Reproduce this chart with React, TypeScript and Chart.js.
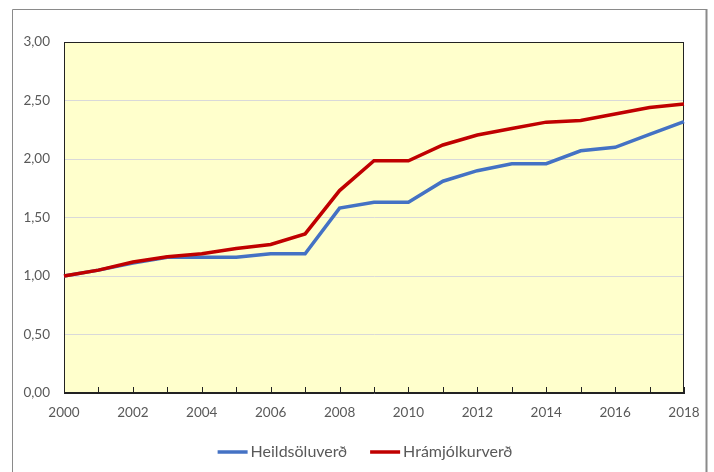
import React, { useEffect, useRef } from "react";
import { Chart, registerables } from "chart.js";

Chart.register(...registerables);

const years: string[] = [
  "2000", "2001", "2002", "2003", "2004", "2005", "2006", "2007", "2008", "2009",
  "2010", "2011", "2012", "2013", "2014", "2015", "2016", "2017", "2018",
];
const heildsoluverd: number[] = [
  1.0, 1.05, 1.11, 1.16, 1.16, 1.16, 1.19, 1.19, 1.58, 1.63,
  1.63, 1.81, 1.90, 1.96, 1.96, 2.07, 2.10, 2.21, 2.32,
];
const hramjolkurverd: number[] = [
  1.0, 1.05, 1.12, 1.165, 1.19, 1.235, 1.27, 1.36, 1.73, 1.985,
  1.985, 2.12, 2.205, 2.26, 2.315, 2.33, 2.385, 2.44, 2.47,
];
const seriesNames: string[] = ["Heildsöluverð", "Hrámjólkurverð"];

const FONT = "Lato, 'Open Sans', sans-serif";

const decorPlugin = {
  id: "decor",
  beforeDraw(chart: any) {
    const { ctx, chartArea: a } = chart;
    ctx.save();
    ctx.fillStyle = "#FFFFCC";
    ctx.fillRect(a.left, a.top, a.right - a.left, a.bottom - a.top);
    // outer chart border
    ctx.strokeStyle = "#8a8a8a";
    ctx.lineWidth = 1;
    ctx.beginPath();
    ctx.moveTo(12.5, 480);
    ctx.lineTo(12.5, 9.5);
    ctx.lineTo(706, 9.5);
    ctx.stroke();
    ctx.lineWidth = 2;
    ctx.beginPath();
    ctx.moveTo(706.5, 9);
    ctx.lineTo(706.5, 480);
    ctx.stroke();
    ctx.restore();
  },
  beforeDatasetsDraw(chart: any) {
    const { ctx, chartArea: a, scales } = chart;
    ctx.save();
    ctx.strokeStyle = "#222222";
    ctx.lineWidth = 1;
    ctx.strokeRect(Math.round(a.left) + 0.5, Math.round(a.top) + 0.5, Math.round(a.right - a.left) - 1, Math.round(a.bottom - a.top) - 1);
    // inward tick marks on x axis
    const x = scales.x;
    ctx.beginPath();
    for (let i = 0; i < years.length; i++) {
      const px = Math.round(x.getPixelForValue(i)) + 0.5;
      ctx.moveTo(px, a.bottom);
      ctx.lineTo(px, a.bottom - 6);
    }
    ctx.stroke();
    ctx.restore();
  },
  afterDraw(chart: any) {
    // legend
    const { ctx } = chart;
    const ds = chart.data.datasets;
    ctx.save();
    ctx.font = `16px ${FONT}`;
    ctx.textBaseline = "middle";
    ctx.textAlign = "left";
    const lineW = 30;
    const gap = 3;
    const itemGap = 23;
    const widths = ds.map((d: any) => lineW + gap + ctx.measureText(d.label).width);
    const total = widths.reduce((s: number, w: number) => s + w, 0) + itemGap * (ds.length - 1);
    let x = chart.width / 2 + 8 - total / 2;
    const y = 452;
    ds.forEach((d: any, i: number) => {
      ctx.strokeStyle = d.borderColor;
      ctx.lineWidth = 3.5;
      ctx.beginPath();
      ctx.moveTo(x, y);
      ctx.lineTo(x + lineW, y);
      ctx.stroke();
      ctx.fillStyle = "#595959";
      ctx.fillText(d.label, x + lineW + gap, y);
      x += widths[i] + itemGap;
    });
    ctx.restore();
  },
};

export default function App() {
  const ref = useRef<HTMLCanvasElement | null>(null);
  useEffect(() => {
    if (!ref.current) return;
    const chart = new Chart(ref.current, {
      type: "line",
      data: {
        labels: years,
        datasets: [
          {
            label: seriesNames[0],
            data: heildsoluverd,
            borderColor: "#4472C4",
            backgroundColor: "#4472C4",
            borderWidth: 3.5,
            pointRadius: 0,
            tension: 0,
            order: 1,
          },
          {
            label: seriesNames[1],
            data: hramjolkurverd,
            borderColor: "#C00000",
            backgroundColor: "#C00000",
            borderWidth: 3.5,
            pointRadius: 0,
            tension: 0,
            order: 0,
          },
        ],
      },
      options: {
        responsive: false,
        animation: false,
        layout: { padding: { left: 13, top: 42, right: 30, bottom: 0 } },
        plugins: {
          tooltip: { enabled: false },
          legend: { display: false },
        },
        scales: {
          x: {
            type: "category",
            offset: false,
            afterFit: (s: any) => {
              s.height = 79;
            },
            grid: { display: false, drawTicks: false },
            border: { display: true, color: "#222222" },
            ticks: {
              autoSkip: false,
              maxRotation: 0,
              padding: 12,
              color: "#595959",
              font: { family: FONT, size: 13.5 },
              callback: (_v: any, i: number) => (i % 2 === 0 ? years[i] : ""),
            },
          },
          y: {
            min: 0,
            max: 3,
            afterFit: (s: any) => {
              s.width = 51;
            },
            grid: { color: "#D9D9D9", drawTicks: false },
            border: { display: true, color: "#222222" },
            ticks: {
              stepSize: 0.5,
              padding: 14,
              color: "#595959",
              font: { family: FONT, size: 13.5 },
              callback: (v: any) => Number(v).toFixed(2).replace(".", ","),
            },
          },
        },
      },
      plugins: [decorPlugin],
    });
    return () => chart.destroy();
  }, []);
  return (
    <div style={{ position: "fixed", left: 0, top: 0, width: 714, height: 472, background: "#fff" }}>
      <canvas ref={ref} width={714} height={472} style={{ display: "block" }} />
    </div>
  );
}
